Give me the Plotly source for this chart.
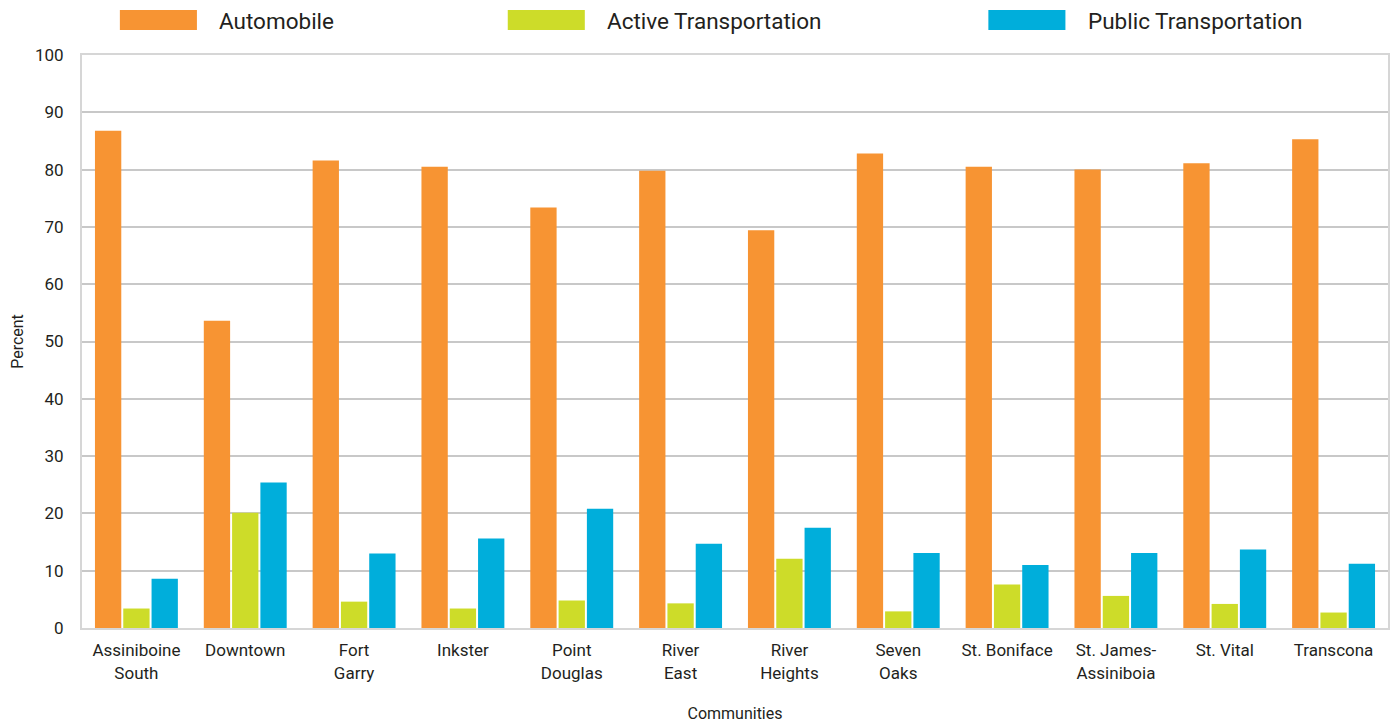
import plotly.graph_objects as go

communities = ["Assiniboine<br>South", "Downtown", "Fort<br>Garry", "Inkster", "Point<br>Douglas",
               "River<br>East", "River<br>Heights", "Seven<br>Oaks", "St. Boniface",
               "St. James-<br>Assiniboia", "St. Vital", "Transcona"]
automobile = [86.8, 53.6, 81.6, 80.5, 73.4, 79.8, 69.4, 82.8, 80.5, 80.0, 81.1, 85.3]
active_transportation = [3.4, 20.1, 4.6, 3.4, 4.8, 4.3, 12.1, 2.9, 7.6, 5.6, 4.2, 2.7]
public_transportation = [8.6, 25.4, 13.0, 15.6, 20.8, 14.7, 17.5, 13.1, 11.0, 13.1, 13.7, 11.2]

series_names = ["Automobile", "Active Transportation", "Public Transportation"]
series_colors = ["#F79433", "#CDDC29", "#00AEDB"]
y_ticks = [0, 10, 20, 30, 40, 50, 60, 70, 80, 90, 100]

FONT = "Roboto, DejaVu Sans, sans-serif"

fig = go.Figure()
for name, vals, col in zip(series_names,
                           [automobile, active_transportation, public_transportation],
                           series_colors):
    fig.add_trace(go.Bar(x=communities, y=vals, name=name, marker_color=col,
                         marker_line_width=0, showlegend=False))

# Legend drawn as wide swatches with labels across the top
legend_x = [0.029, 0.326, 0.694]
for name, col, lx in zip(series_names, series_colors, legend_x):
    fig.add_shape(type="rect", xref="paper", yref="paper",
                  x0=lx, x1=lx + 0.059, y0=1.0436, y1=1.0785,
                  fillcolor=col, line_width=0)
    fig.add_annotation(text=name, xref="paper", yref="paper",
                       x=lx + 0.0745, y=1.059, xanchor="left", yanchor="middle",
                       showarrow=False, font=dict(family=FONT, size=22.5, color="#231f20"))

fig.update_layout(
    width=1397, height=725,
    margin=dict(l=82, r=9, t=55, b=97),
    paper_bgcolor="white", plot_bgcolor="white",
    barmode="group", bargap=0.22, bargroupgap=0.07,
    font=dict(family=FONT, color="#231f20"),
)
fig.update_yaxes(range=[0, 100], tickvals=y_ticks, showgrid=True,
                 gridcolor="#c8c8c8", gridwidth=1.5,
                 showline=True, linecolor="#d6d6d6", linewidth=2, mirror=True,
                 zeroline=False, ticks="", ticklabelstandoff=13, automargin=False,
                 tickfont=dict(size=17, family=FONT, color="#231f20"),
                 title=dict(text="Percent", standoff=7,
                            font=dict(size=16, family=FONT, color="#231f20")))
fig.update_xaxes(showline=True, linecolor="#d6d6d6", linewidth=2, mirror=True,
                 ticks="", ticklabelstandoff=6, automargin=False,
                 tickfont=dict(size=17, family=FONT, color="#231f20"),
                 title=dict(text="Communities", standoff=26,
                            font=dict(size=16, family=FONT, color="#231f20")))

fig.write_html("out.html")
